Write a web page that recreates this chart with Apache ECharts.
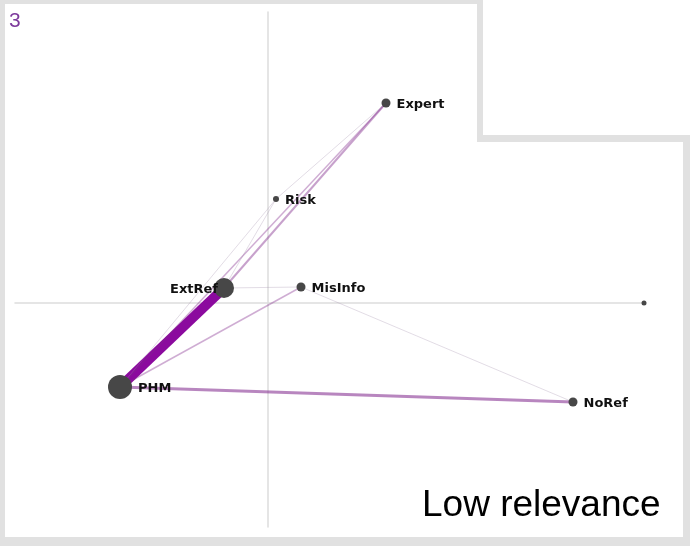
<!DOCTYPE html>
<html>
<head>
<meta charset="utf-8">
<script src="https://cdn.jsdelivr.net/npm/echarts@6/dist/echarts.min.js"></script>
<style>html,body{margin:0;padding:0;background:#fff}#c{width:690px;height:546px}</style>
</head>
<body>
<div id="c"></div>
<script>
// ---- data ----
var nodeNames = ['PHM', 'ExtRef', 'Expert', 'MisInfo', 'NoRef', 'Risk', ''];
var nodeX     = [-1.48, -0.44, 1.18, 0.33, 3.05, 0.08, 3.76];
var nodeY     = [-0.84,  0.15, 2.00, 0.16, -0.99, 1.04, 0.00];
var nodeCount = [12, 10, 4.5, 4.5, 4.5, 3, 2.5];

var linkSource = ['PHM', 'PHM',   'ExtRef', 'PHM',    'PHM',     'ExtRef',  'MisInfo', 'PHM',  'ExtRef', 'Risk'];
var linkTarget = ['ExtRef','NoRef','Expert', 'Expert', 'MisInfo', 'MisInfo', 'NoRef',   'Risk', 'Risk',   'Expert'];
var linkWeight = [10, 3, 2, 1.5, 1.5, 1.2, 1, 1, 1, 1];

var panelNumber = '3';
var cornerNote = 'Low relevance';

// ---- build ----
function linkStyle(w) {
  if (w >= 5) return { color: '#8b0a9e', width: w, opacity: 1 };
  if (w >= 1.5) return { color: 'rgba(128,40,140,' + (0.2 + w * 0.12).toFixed(2) + ')', width: w, opacity: 1 };
  return { color: 'rgba(160,140,170,0.3)', width: w, opacity: 1 };
}

var nodes = nodeNames.map(function (n, i) {
  var d = {
    name: n === '' ? '_dot' : n,
    value: [nodeX[i], nodeY[i]],
    symbolSize: nodeCount[i] * 2,
    label: { show: n !== '', position: 'right', distance: 6 }
  };
  if (n === 'ExtRef') d.label = { show: true, position: 'left', distance: -4 };
  return d;
});
var links = linkSource.map(function (s, i) {
  return { source: s, target: linkTarget[i], lineStyle: linkStyle(linkWeight[i]) };
});

var chart = echarts.init(document.getElementById('c'), null, { renderer: 'canvas' });
chart.setOption({
  backgroundColor: '#ffffff',
  animation: false,
  graphic: [
    { type: 'polygon', z: -10, silent: true,
      shape: { points: [[0,0],[483,0],[483,135],[690,135],[690,546],[0,546]] },
      style: { fill: '#e1e1e1' } },
    { type: 'polygon', z: -9, silent: true,
      shape: { points: [[5,4],[477,4],[477,142],[683,142],[683,537],[5,537]] },
      style: { fill: '#ffffff' } },
    { type: 'text', left: 9, top: 11, z: 5,
      style: { text: panelNumber, fill: '#7d3a9c', font: '21px "Liberation Sans", Arial, sans-serif' } },
    { type: 'text', left: 422, top: 487, z: 5,
      style: { text: cornerNote, fill: '#000', font: '37px "Liberation Sans", Arial, sans-serif' } }
  ],
  grid: { left: 15, top: 12, width: 630, height: 515, containLabel: false },
  xAxis: {
    type: 'value', min: -2.53, max: 3.77,
    axisLine: { show: true, onZero: true, lineStyle: { color: '#dddddd', width: 1.5 } },
    axisTick: { show: false }, axisLabel: { show: false }, splitLine: { show: false }
  },
  yAxis: {
    type: 'value', min: -2.24, max: 2.91,
    axisLine: { show: true, onZero: true, lineStyle: { color: '#dddddd', width: 1.5 } },
    axisTick: { show: false }, axisLabel: { show: false }, splitLine: { show: false }
  },
  series: [{
    type: 'graph',
    coordinateSystem: 'cartesian2d',
    layout: 'none',
    symbol: 'circle',
    itemStyle: { color: '#474747' },
    label: {
      color: '#111111', fontWeight: 'bold', fontSize: 13,
      fontFamily: '"DejaVu Sans", Verdana, sans-serif',
      offset: [0, 2]
    },
    emphasis: { disabled: true },
    data: nodes,
    links: links,
    z: 3
  }]
});
</script>
</body>
</html>
